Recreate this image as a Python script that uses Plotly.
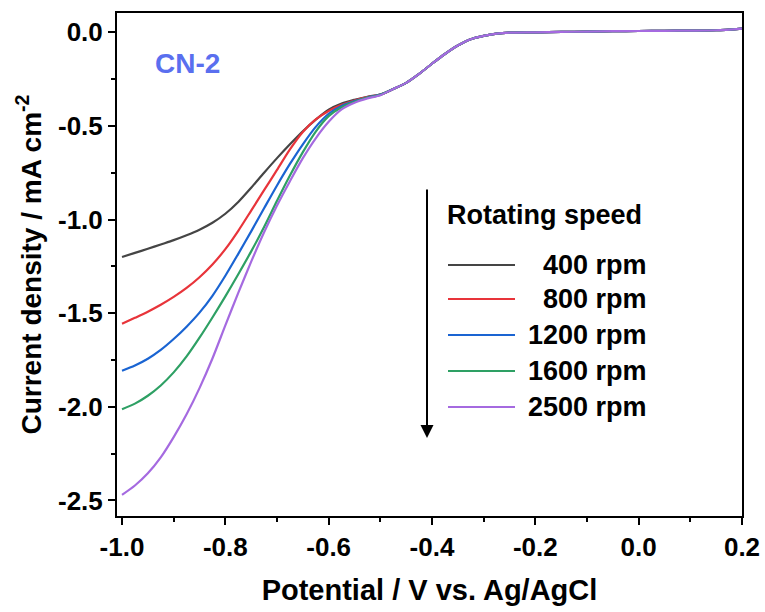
import plotly.graph_objects as go

# ---------------- data ----------------
potential = [-1.0, -0.975, -0.95, -0.925, -0.9, -0.875, -0.85, -0.825, -0.8, -0.775,
             -0.75, -0.725, -0.7, -0.675, -0.65, -0.625, -0.6, -0.575, -0.55, -0.525,
             -0.5, -0.475, -0.45, -0.425, -0.4, -0.375, -0.35, -0.325, -0.3, -0.275,
             -0.25, -0.2, -0.15, -0.1, -0.05, 0.0, 0.05, 0.1, 0.15, 0.2]

# shared upper part (x >= -0.475)
common_tail = [-0.303, -0.270, -0.222, -0.168, -0.116, -0.071, -0.037, -0.019, -0.007,
               -0.002, 0.0, 0.002, 0.004, 0.006, 0.007, 0.008, 0.009, 0.011, 0.020]

j_400 = [-1.200, -1.178, -1.156, -1.133, -1.110, -1.084, -1.054, -1.017, -0.969, -0.906,
         -0.830, -0.750, -0.672, -0.598, -0.528, -0.466, -0.413, -0.380, -0.360, -0.344,
         -0.332] + common_tail
j_800 = [-1.557, -1.525, -1.492, -1.455, -1.413, -1.365, -1.308, -1.240, -1.158, -1.060,
         -0.952, -0.843, -0.735, -0.625, -0.532, -0.465, -0.420, -0.387, -0.364, -0.346,
         -0.333] + common_tail
j_1200 = [-1.807, -1.779, -1.743, -1.696, -1.638, -1.572, -1.497, -1.407, -1.300, -1.183,
          -1.063, -0.940, -0.818, -0.703, -0.598, -0.505, -0.435, -0.393, -0.367, -0.348,
          -0.333] + common_tail
j_1600 = [-2.013, -1.983, -1.941, -1.886, -1.816, -1.731, -1.631, -1.523, -1.410, -1.292,
          -1.170, -1.040, -0.900, -0.765, -0.640, -0.530, -0.448, -0.400, -0.371, -0.349,
          -0.334] + common_tail
j_2500 = [-2.470, -2.420, -2.355, -2.270, -2.162, -2.040, -1.900, -1.742, -1.565, -1.392,
          -1.225, -1.068, -0.925, -0.795, -0.672, -0.566, -0.478, -0.412, -0.376, -0.353,
          -0.336] + common_tail

series_names = ["400 rpm", "800 rpm", "1200 rpm", "1600 rpm", "2500 rpm"]
series_values = [j_400, j_800, j_1200, j_1600, j_2500]
series_colors = ["#454545", "#e8343a", "#1a64d2", "#2ea064", "#a56ae0"]

x_tickvals = [-1.0, -0.8, -0.6, -0.4, -0.2, 0.0, 0.2]
y_tickvals = [0.0, -0.5, -1.0, -1.5, -2.0, -2.5]

legend_title = "Rotating speed"
sample_label = "CN-2"

# ---------------- figure ----------------
W, H = 765, 612
L, R, T, B = 117, 23, 13, 96
pw, ph = W - L - R, H - T - B

def px(xpix):
    return (xpix - L) / pw

def py(ypix):
    return (H - B - ypix) / ph

FONT = "Liberation Sans, Arial, sans-serif"

fig = go.Figure()
for name, vals, col in zip(series_names, series_values, series_colors):
    fig.add_trace(go.Scatter(x=potential, y=vals, mode="lines", name=name,
                             line=dict(color=col, width=2.2, shape="spline", smoothing=0.8),
                             showlegend=False))

axis_common = dict(showline=True, linecolor="black", linewidth=2, mirror=True,
                   ticks="outside", ticklen=7, tickwidth=2, tickcolor="black",
                   showgrid=False, zeroline=False, automargin=False,
                   tickfont=dict(family=FONT, size=26, color="black", weight="bold"))

fig.update_xaxes(range=[-1.0097, 0.2], tickvals=x_tickvals,
                 ticktext=[f"{v:.1f}" for v in x_tickvals],
                 minor=dict(dtick=0.1, tick0=0, ticks="outside", ticklen=4, tickwidth=2,
                            tickcolor="black"),
                 title=dict(text="Potential / V vs. Ag/AgCl", standoff=18,
                            font=dict(family=FONT, size=29, color="black", weight="bold")),
                 **axis_common)
fig.update_yaxes(range=[-2.583, 0.103], tickvals=y_tickvals,
                 ticktext=[f"{v:.1f}" for v in y_tickvals],
                 minor=dict(dtick=0.25, tick0=0, ticks="outside", ticklen=4, tickwidth=2,
                            tickcolor="black"),
                 title=dict(text="Current density / mA cm<sup>-2</sup>", standoff=8,
                            font=dict(family=FONT, size=28, color="black", weight="bold")),
                 **axis_common)

# custom legend
row_y = [265, 299, 335, 371, 407]
for name, col, yy in zip(series_names, series_colors, row_y):
    fig.add_shape(type="line", xref="paper", yref="paper",
                  x0=px(448), x1=px(515), y0=py(yy), y1=py(yy),
                  line=dict(color=col, width=2))
    fig.add_annotation(xref="paper", yref="paper", x=px(649), y=py(yy),
                       text=name, showarrow=False, xanchor="right", yanchor="middle",
                       font=dict(family=FONT, size=27, color="black", weight="bold"))
fig.add_annotation(xref="paper", yref="paper", x=px(445), y=py(215),
                   text=legend_title, showarrow=False, xanchor="left", yanchor="middle",
                   font=dict(family=FONT, size=27, color="black", weight="bold"))

# arrow
fig.add_annotation(xref="paper", yref="paper", x=px(427), y=py(438),
                   ax=0, ay=-(438 - 188), text="", showarrow=True,
                   arrowhead=2, arrowsize=1.3, arrowwidth=2, arrowcolor="black")

# sample label
fig.add_annotation(xref="paper", yref="paper", x=px(153), y=py(63),
                   text=sample_label, showarrow=False, xanchor="left", yanchor="middle",
                   font=dict(family=FONT, size=28, color="#5a6fef", weight="bold"))

fig.update_layout(width=W, height=H, margin=dict(l=L, r=R, t=T, b=B),
                  paper_bgcolor="white", plot_bgcolor="white",
                  font=dict(family=FONT, color="black"))

fig.write_html("out.html", config={"displayModeBar": False},
               post_script="document.body.style.margin='0';document.body.style.overflow='hidden';")
